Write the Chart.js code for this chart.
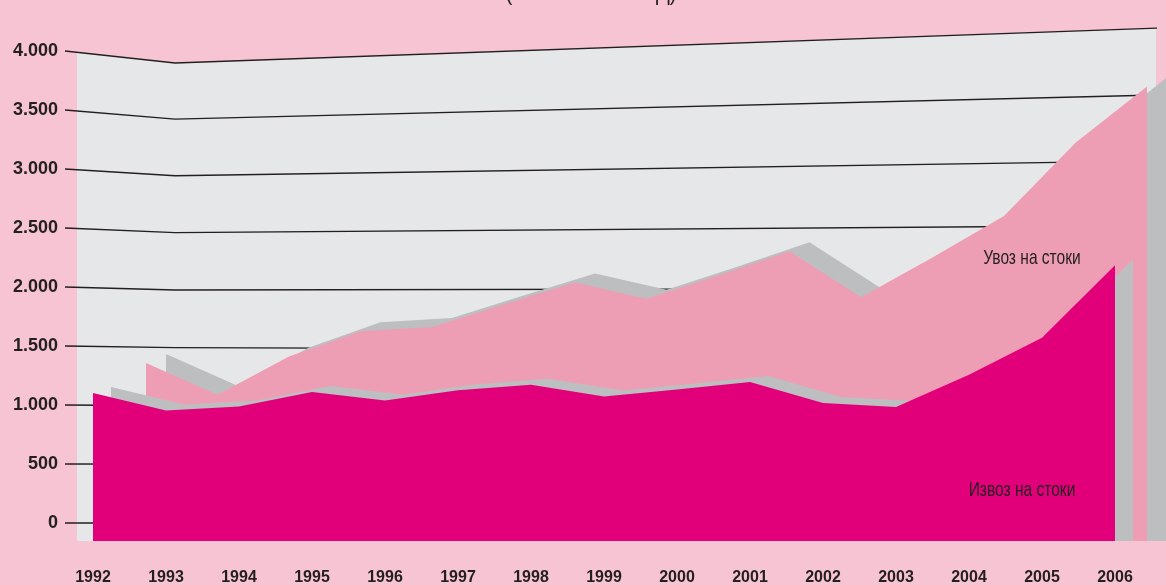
<!DOCTYPE html>
<html>
<head>
<meta charset="utf-8">
<script src="https://cdn.jsdelivr.net/npm/chart.js@4.4.1/dist/chart.umd.min.js"></script>
<style>
html,body{margin:0;padding:0;background:#f6c4d2;overflow:hidden}
canvas{display:block}
</style>
</head>
<body>
<canvas id="c" width="1166" height="585"></canvas>
<script>
// ---- data ----
const years = [1992,1993,1994,1995,1996,1997,1998,1999,2000,2001,2002,2003,2004,2005,2006];
const exportsGoods = [1101,954,988,1110,1039,1124,1172,1073,1132,1195,1017,983,1257,1569,2185];
const importsGoods = [1356,1087,1410,1625,1660,1851,2038,1900,2098,2304,1913,2250,2601,3222,3700];
const yTickValues = [0,500,1000,1500,2000,2500,3000,3500,4000];
const titleText = '(во милиони УСД)';
const importLabel = 'Увоз на стоки';
const exportLabel = 'Извоз на стоки';

// ---- layout / style ----
const FONT = "'Liberation Sans', Arial, sans-serif";
const AREA = {left:77, right:1166, top:20, bottom:548};
const ZERO_PX = 523, PX_PER_UNIT = 472/4000;
const BASE_PX = 541;
const C = {panel:'#e6e7e9', imp:'#ee9eb4', exp:'#e2007a', side:'#bdbec0', ink:'#231f20'};

function xRange(px0, px1){
  const y0 = years[0], y1 = years[years.length-1];
  const per = (px1-px0)/(y1-y0);
  return {min: y0 - (px0-AREA.left)/per, max: y1 + (AREA.right-px1)/per};
}
function yRange(shift){
  const z = ZERO_PX + shift;
  return {min:(z-AREA.bottom)/PX_PER_UNIT, max:(z-AREA.top)/PX_PER_UNIT};
}
// fill target so every ribbon (front or shifted depth copy) ends on the same base line
const baseValue = shift => (ZERO_PX + shift - BASE_PX)/PX_PER_UNIT;
const hiddenAxis = r => ({type:'linear', display:false, bounds:'data', min:r.min, max:r.max});
const pts = vals => years.map((y,i)=>({x:y, y:vals[i]}));
const fmt = v => String(v).replace(/\B(?=(\d{3})+(?!\d))/g,'.');
const noPad = s => { s.paddingTop = 0; s.paddingBottom = 0; s.paddingLeft = 0; s.paddingRight = 0; };

const DEPTH_E = -6, DEPTH_I = -9;

function series(label, vals, color, xID, yID, order, shift){
  return {label, data:pts(vals), xAxisID:xID, yAxisID:yID, order,
    backgroundColor:color, borderWidth:0, pointRadius:0, tension:0,
    fill:{value:baseValue(shift)}, clip:false};
}

function narrowText(ctx, text, x, y, size, sx){
  ctx.save();
  ctx.font = size + 'px ' + FONT;
  ctx.translate(x, y);
  ctx.scale(sx, 1);
  ctx.fillText(text, 0, 0);
  ctx.restore();
}

const gridPlugin = {
  id:'perspectiveGrid',
  beforeDatasetsDraw(chart){
    const ctx = chart.ctx, ys = chart.scales.y;
    const XL=65, XK=175, XR=1157;
    const slope = v => v >= 1700
      ? -0.0356*Math.pow((v-1700)/2300, 1.5)
      : -0.0356*(v-1700)/2300;
    const path = v => {
      const yl = ys.getPixelForValue(v);
      const yk = yl + 12*Math.pow(v/4000,2);
      return [[XL,yl],[XK,yk],[XR,yk+slope(v)*(XR-XK)]];
    };
    const yAt = (p,x) => x<=p[1][0]
      ? p[0][1]+(p[1][1]-p[0][1])*(x-p[0][0])/(p[1][0]-p[0][0])
      : p[1][1]+(p[2][1]-p[1][1])*(x-p[1][0])/(p[2][0]-p[1][0]);
    const top = path(yTickValues[yTickValues.length-1]);
    const base = BASE_PX;
    const pL = 77, pR = 1156;
    ctx.save();
    ctx.fillStyle = C.panel;
    ctx.beginPath();
    ctx.moveTo(pL, yAt(top,pL));
    ctx.lineTo(XK, top[1][1]);
    ctx.lineTo(pR, yAt(top,pR));
    ctx.lineTo(pR, base);
    ctx.lineTo(pL, base);
    ctx.closePath();
    ctx.fill();
    ctx.beginPath();
    ctx.rect(60, 0, XR-60, base);
    ctx.clip();
    ctx.strokeStyle = C.ink;
    ctx.lineWidth = 1.3;
    yTickValues.forEach(v=>{
      const p = path(v);
      ctx.beginPath();
      ctx.moveTo(p[0][0],p[0][1]); ctx.lineTo(p[1][0],p[1][1]); ctx.lineTo(p[2][0],p[2][1]);
      ctx.stroke();
    });
    ctx.restore();
  },
  afterDatasetsDraw(chart){
    const ctx = chart.ctx;
    ctx.save();
    ctx.fillStyle = C.ink;
    ctx.textAlign = 'center';
    ctx.textBaseline = 'middle';
    narrowText(ctx, importLabel, 1032, 258, 21, 0.74);
    narrowText(ctx, exportLabel, 1022, 490, 21, 0.74);
    ctx.textBaseline = 'alphabetic';
    narrowText(ctx, titleText, 591, 0, 22, 0.93);
    ctx.restore();
  }
};

new Chart(document.getElementById('c'), {
  type:'line',
  data:{datasets:[
    series('Извоз на стоки', exportsGoods, C.exp, 'x', 'y', 1, 0),
    series('Извоз (длабочина)', exportsGoods, C.side, 'xEb', 'yEb', 2, DEPTH_E),
    series('Увоз на стоки', importsGoods, C.imp, 'xI', 'y', 3, 0),
    series('Увоз (длабочина)', importsGoods, C.side, 'xIb', 'yIb', 4, DEPTH_I)
  ]},
  options:{
    responsive:false, animation:false, devicePixelRatio:1,
    layout:{padding:{left:0, right:1166-AREA.right, top:AREA.top, bottom:0}},
    plugins:{legend:{display:false}, tooltip:{enabled:false}, title:{display:false}},
    scales:{
      x:{type:'linear', position:'bottom', bounds:'data', ...xRange(93,1115),
        afterFit:s=>{s.height = 585-AREA.bottom; noPad(s);},
        afterBuildTicks:s=>{s.ticks = years.map(v=>({value:v}));},
        grid:{display:false, drawTicks:false}, border:{display:false},
        ticks:{autoSkip:false, maxRotation:0, padding:20, color:C.ink,
          font:{family:FONT, size:16, weight:'bold'}, callback:v=>String(v)}},
      y:{type:'linear', position:'left', bounds:'data', ...yRange(0),
        afterFit:s=>{s.width = AREA.left; noPad(s);},
        afterBuildTicks:s=>{s.ticks = yTickValues.map(v=>({value:v}));},
        grid:{display:false, drawTicks:false}, border:{display:false},
        ticks:{padding:19, color:C.ink, font:{family:FONT, size:18, weight:'bold'}, callback:v=>fmt(v)}},
      xEb: hiddenAxis(xRange(111,1133)),
      yEb: hiddenAxis(yRange(DEPTH_E)),
      xI: hiddenAxis(xRange(146,1147)),
      xIb: hiddenAxis(xRange(166,1167)),
      yIb: hiddenAxis(yRange(DEPTH_I))
    }
  },
  plugins:[gridPlugin]
});
</script>
</body>
</html>
